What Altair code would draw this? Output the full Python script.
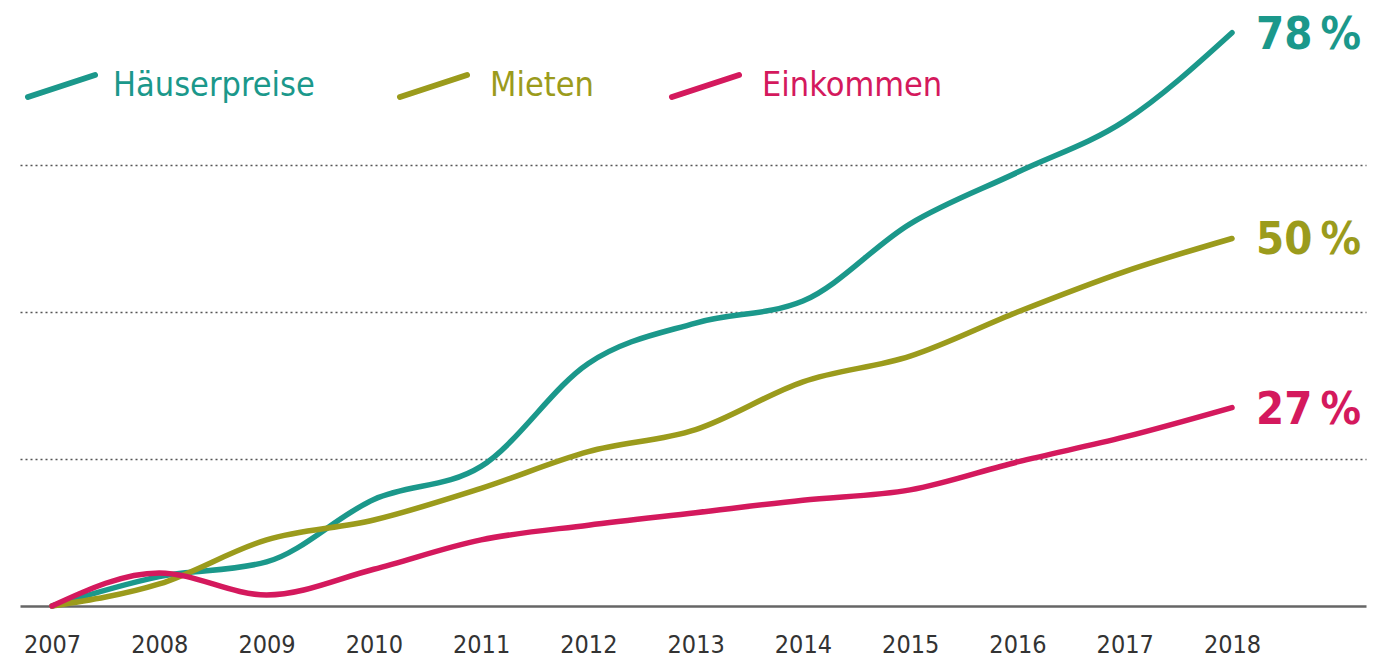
import altair as alt
import pandas as pd

years = list(range(2007, 2019))
haeuser = [0, 4, 6, 14.5, 19, 33, 38.5, 41.5, 52, 59, 66, 78]
mieten = [0, 3, 9, 11.7, 16, 21, 24, 30.5, 34, 40, 45.5, 50]
einkommen = [0, 4.5, 1.5, 5, 9, 11, 12.7, 14.4, 15.8, 19.6, 23, 27]

series_names = ["Häuserpreise", "Mieten", "Einkommen"]
series_colors = ["#1b988b", "#9b9b1c", "#d4195d"]
end_labels = ["78\u202f%", "50\u202f%", "27\u202f%"]

rows = []
for name, vals in zip(series_names, [haeuser, mieten, einkommen]):
    for y, v in zip(years, vals):
        rows.append({"Jahr": y, "Wert": v, "Reihe": name})
df = pd.DataFrame(rows)

end_df = pd.DataFrame({
    "Jahr": [years[-1]] * 3,
    "Wert": [haeuser[-1], mieten[-1], einkommen[-1]],
    "Reihe": series_names,
    "Label": end_labels,
})

FONT = "DejaVu Sans Condensed, DejaVu Sans, sans-serif"
W, H = 1346, 598

xscale = alt.Scale(domain=[2006.7017, 2019.2492], nice=False, zero=False)
yscale = alt.Scale(domain=[0, 81.36], nice=False)
cscale = alt.Scale(domain=series_names, range=series_colors)

base = alt.Chart(df)

lines = base.mark_line(strokeWidth=5.5, interpolate="monotone", strokeCap="round").encode(
    x=alt.X("Jahr:Q", scale=xscale,
            axis=alt.Axis(values=years, format="d", title=None, grid=False, ticks=False,
                          domainColor="#666666", domainWidth=2.5, labelFont=FONT,
                          labelFontSize=25, labelColor="#333333", labelPadding=26)),
    y=alt.Y("Wert:Q", scale=yscale,
            axis=alt.Axis(values=[20, 40, 60], title=None, labels=False, ticks=False,
                          domain=False, grid=True, gridDash=[2, 3], gridColor="#555555",
                          gridWidth=1.5)),
    color=alt.Color("Reihe:N", scale=cscale, legend=None),
    detail="Reihe:N",
)

labels = alt.Chart(end_df).mark_text(
    align="left", baseline="middle", dx=24, dy=2, font=FONT, fontSize=45, fontWeight="bold"
).encode(
    x=alt.X("Jahr:Q", scale=xscale),
    y=alt.Y("Wert:Q", scale=yscale),
    text="Label:N",
    color=alt.Color("Reihe:N", scale=cscale, legend=None),
)

# legend built from the series names/colors
leg_df = pd.DataFrame({
    "Reihe": series_names,
    "x0": [8, 380, 652],
    "tx": [93, 470, 742],
})
leg_lines = alt.Chart(leg_df).mark_rule(strokeWidth=6, strokeCap="round").encode(
    x=alt.X("x0:Q", scale=None),
    x2=alt.X2("x1:Q"),
    y=alt.value(89),
    y2=alt.value(67),
    color=alt.Color("Reihe:N", scale=cscale, legend=None),
).transform_calculate(x1="datum.x0 + 67")
leg_text = alt.Chart(leg_df).mark_text(
    align="left", baseline="middle", font=FONT, fontSize=34
).encode(
    x=alt.X("tx:Q", scale=None),
    y=alt.value(78),
    text="Reihe:N",
    color=alt.Color("Reihe:N", scale=cscale, legend=None),
)

chart = alt.layer(lines, labels, leg_lines, leg_text).properties(
    width=W, height=H,
    autosize=alt.AutoSizeParams(type="none"),
    padding={"left": 12, "top": 0, "right": 10, "bottom": 60},
    background="white",
).configure_view(stroke=None)

chart.save("out.html", embed_options={"renderer": "svg", "actions": False})
